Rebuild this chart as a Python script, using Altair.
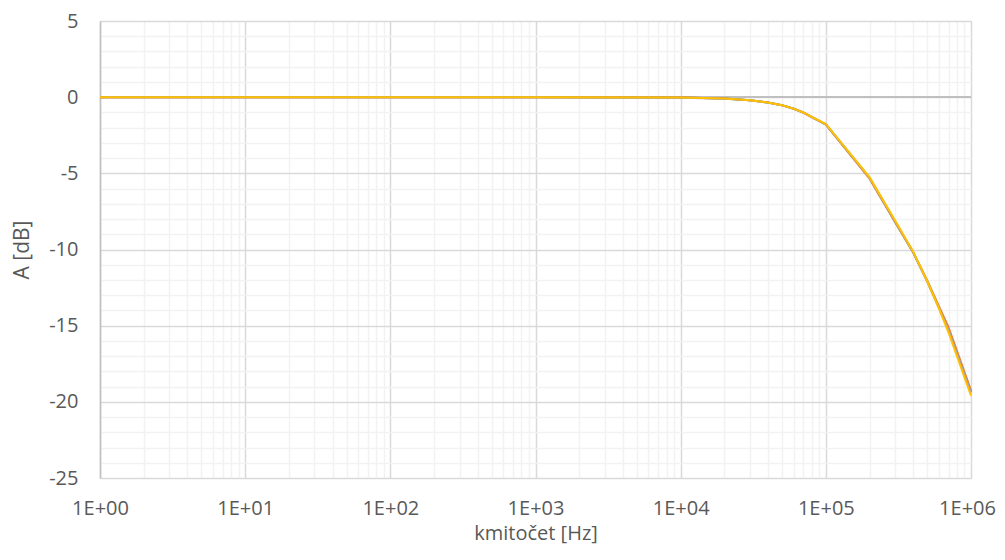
import altair as alt
import pandas as pd

# Frequencies (Hz) and gain (dB) for four measured series
freq = [1, 10, 100, 1000, 10000, 20000, 30000, 40000, 50000, 60000, 70000,
        80000, 90000, 100000, 200000, 300000, 400000, 500000, 600000, 700000, 1000000]
s1 = [0, 0, 0, 0, -0.03, -0.09, -0.2, -0.35, -0.53, -0.75, -1.0,
      -1.3, -1.55, -1.78, -5.3, -8.2, -10.2, -12.1, -13.8, -15.25, -19.35]
s2 = [0, 0, 0, 0, -0.03, -0.09, -0.2, -0.35, -0.54, -0.76, -1.02,
      -1.32, -1.57, -1.8, -5.35, -8.2, -10.2, -12.05, -13.7, -15.1, -19.25]
s3 = [0, 0, 0, 0, -0.04, -0.1, -0.21, -0.36, -0.54, -0.76, -1.01,
      -1.31, -1.56, -1.79, -5.3, -8.15, -10.2, -12.1, -13.8, -15.3, -19.4]
s4 = [0, 0, 0, 0, -0.03, -0.09, -0.2, -0.35, -0.53, -0.75, -1.0,
      -1.29, -1.54, -1.76, -5.25, -8.1, -10.15, -12.1, -13.85, -15.45, -19.6]
series_names = ["S1", "S2", "S3", "S4"]
series_colors = ["#4472C4", "#ED7D31", "#A5A5A5", "#FFC000"]

rows = []
for name, vals in zip(series_names, [s1, s2, s3, s4]):
    for f, v in zip(freq, vals):
        rows.append({"series": name, "f": f, "A": v})
df = pd.DataFrame(rows)

x_ticks = [m * 10 ** k for k in range(6) for m in range(1, 10)] + [10 ** 6]
y_ticks = list(range(-25, 6))
decades = "[1,10,100,1000,10000,100000,1000000]"

FONT = "Open Sans"
LABEL_COLOR = "#595959"

x_axis = alt.Axis(
    values=x_ticks, tickCount=200,
    labelExpr=f"indexof({decades}, datum.value) >= 0 ? '1E+0' + round(log(datum.value)/LN10) : ''",
    grid=True,
    gridColor={"condition": {"test": f"indexof({decades}, datum.value) >= 0", "value": "#d9d9d9"},
               "value": "#f2f2f2"},
    gridWidth=1.5,
    ticks=False, tickSize=0, domain=False,
    labelPadding=20, labelFont=FONT, labelFontSize=20, labelColor=LABEL_COLOR,
    labelOffset={"condition": {"test": "datum.value >= 1000000", "value": -4}, "value": 0},
    labelFlush=False, labelOverlap=False,
    title="kmitočet [Hz]", titleFont=FONT, titleFontSize=20, titleFontWeight="normal",
    titleColor=LABEL_COLOR, titlePadding=5,
)
y_axis = alt.Axis(
    values=y_ticks, tickCount=200,
    labelExpr="datum.value % 5 == 0 ? '' + datum.value : ''",
    grid=True,
    gridColor={"condition": {"test": "datum.value % 5 == 0", "value": "#d9d9d9"},
               "value": "#f2f2f2"},
    gridWidth=1.5,
    ticks=False, tickSize=0, domain=True, domainColor="#bfbfbf", domainWidth=1.5,
    labelPadding=22, labelFont=FONT, labelFontSize=20, labelColor=LABEL_COLOR,
    labelOverlap=False, labelFlush=False,
    title="A [dB]", titleFont=FONT, titleFontSize=21, titleFontWeight="normal",
    titleColor=LABEL_COLOR, titlePadding=16,
)

base = alt.Chart(df)

zero = base.mark_rule(color="#bfbfbf", strokeWidth=1.5).encode(
    y=alt.datum(0, type="quantitative")
)

lines = base.mark_line(strokeWidth=2).encode(
    x=alt.X("f:Q", scale=alt.Scale(type="log", domain=[1, 1000000], nice=False), axis=x_axis),
    y=alt.Y("A:Q", scale=alt.Scale(domain=[-25, 5], nice=False, zero=False), axis=y_axis),
    color=alt.Color("series:N", scale=alt.Scale(domain=series_names, range=series_colors), legend=None),
    order=alt.Order("f:Q"),
)

chart = alt.layer(zero, lines).properties(
    width=871, height=457,
    autosize=alt.AutoSizeParams(type="none"),
    padding={"left": 92, "top": 13, "right": 26, "bottom": 70},
).configure_view(stroke=None).configure(background="white")

chart.save("out.html", embed_options={"renderer": "svg", "actions": False})
